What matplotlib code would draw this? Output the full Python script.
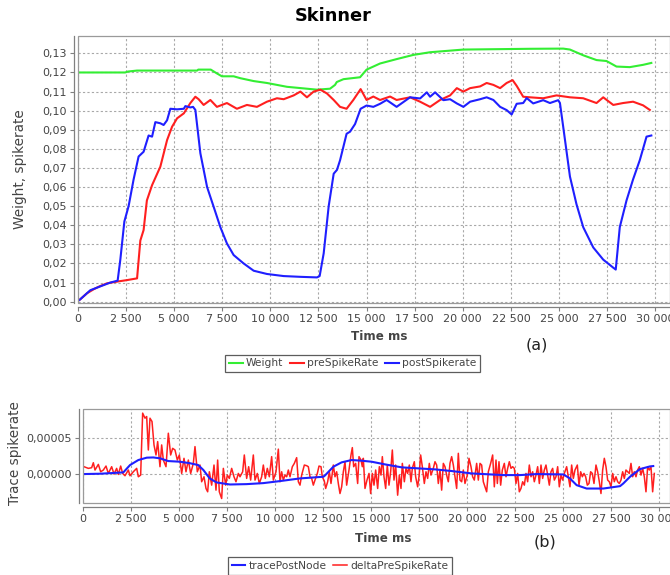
import matplotlib
matplotlib.use("Agg")
import matplotlib.pyplot as plt
from matplotlib.ticker import FuncFormatter, MultipleLocator, FixedLocator
from matplotlib.patches import Rectangle

# ---------------- data: panel (a) ----------------
weight_t = [0, 2450, 2600, 3070, 6190, 6250, 6900, 7220, 7480, 8090, 8440, 9130, 9820, 10340,
            10860, 11380, 12420, 13100, 13360, 13450, 13800, 14660, 15000, 15700, 16560, 17430,
            18300, 20030, 21760, 23490, 25220, 25570, 26260, 26950, 27470, 27990, 28680, 29370, 29800]
weight_v = [0.120, 0.120, 0.1205, 0.121, 0.121, 0.1215, 0.1215, 0.1195, 0.118, 0.118, 0.117, 0.1155,
            0.1145, 0.1135, 0.1125, 0.112, 0.111, 0.1115, 0.1135, 0.115, 0.1165, 0.1175, 0.1215,
            0.1247, 0.127, 0.1292, 0.1306, 0.132, 0.1322, 0.1324, 0.1325, 0.132, 0.129, 0.1265,
            0.126, 0.1231, 0.1228, 0.124, 0.125]

pre_t = [0, 90, 470, 815, 1160, 1510, 2030, 2550, 3070, 3240, 3410, 3580, 3850, 4280, 4630, 4890,
         5150, 5500, 5840, 6100, 6270, 6530, 6880, 7220, 7740, 8260, 8780, 9300, 9820, 10340, 10690,
         11210, 11560, 11900, 12250, 12600, 12940, 13290, 13620, 13960, 14310, 14690, 15000, 15350,
         15700, 16220, 16560, 17260, 17780, 18300, 18820, 19340, 19690, 20030, 20380, 20900, 21240,
         21590, 21940, 22280, 22590, 22800, 23140, 23490, 24180, 24870, 25570, 26260, 26950, 27300,
         27820, 28330, 28850, 29370, 29720]
pre_v = [0.0005, 0.001, 0.0044, 0.0065, 0.0082, 0.0096, 0.0105, 0.0113, 0.0122, 0.032, 0.0375, 0.053,
         0.061, 0.0707, 0.0846, 0.0916, 0.096, 0.0986, 0.104, 0.1073, 0.106, 0.103, 0.1056, 0.102,
         0.104, 0.101, 0.103, 0.102, 0.1047, 0.1065, 0.106, 0.108, 0.110, 0.107, 0.110, 0.111, 0.109,
         0.1056, 0.102, 0.101, 0.1056, 0.1113, 0.1056, 0.1074, 0.1056, 0.1074, 0.1056, 0.107, 0.1047,
         0.102, 0.1056, 0.108, 0.1118, 0.110, 0.1118, 0.1127, 0.1145, 0.1135, 0.1118, 0.1145, 0.116,
         0.113, 0.1073, 0.107, 0.1065, 0.108, 0.107, 0.1065, 0.104, 0.107, 0.103, 0.104, 0.1047,
         0.1028, 0.1004]

post_t = [0, 90, 640, 1160, 1680, 2060, 2200, 2410, 2630, 2890, 3150, 3410, 3670, 3850, 4020, 4280,
          4450, 4630, 4800, 5150, 5500, 5580, 5840, 5980, 6100, 6360, 6710, 7050, 7400, 7740, 8090,
          8610, 9130, 9820, 10690, 11560, 12420, 12560, 12770, 13030, 13290, 13460, 13620, 13960,
          14140, 14400, 14690, 15000, 15350, 15700, 16040, 16560, 17260, 17780, 18130, 18300, 18560,
          18990, 19340, 19690, 20030, 20380, 20900, 21240, 21590, 21940, 22280, 22540, 22800, 23140,
          23320, 23660, 24180, 24530, 24960, 25050, 25220, 25570, 25910, 26260, 26780, 27300, 27820,
          27950, 28160, 28510, 28850, 29200, 29550, 29800]
post_v = [0.0005, 0.001, 0.006, 0.008, 0.010, 0.011, 0.022, 0.042, 0.050, 0.064, 0.076, 0.0785, 0.087,
          0.0864, 0.094, 0.0934, 0.0925, 0.095, 0.101, 0.1007, 0.101, 0.1024, 0.1017, 0.102, 0.1004,
          0.0777, 0.060, 0.0497, 0.039, 0.0305, 0.0244, 0.020, 0.0162, 0.0145, 0.0134, 0.013, 0.0127,
          0.0134, 0.0253, 0.050, 0.067, 0.069, 0.074, 0.0879, 0.089, 0.093, 0.101, 0.1027, 0.102,
          0.1036, 0.1056, 0.102, 0.107, 0.1064, 0.1096, 0.1073, 0.1096, 0.1055, 0.106, 0.1038, 0.102,
          0.1047, 0.106, 0.107, 0.1056, 0.102, 0.1003, 0.098, 0.1036, 0.104, 0.1066, 0.1038, 0.1055,
          0.104, 0.1055, 0.104, 0.0915, 0.0655, 0.051, 0.039, 0.0284, 0.022, 0.0178, 0.0168, 0.039,
          0.053, 0.064, 0.0741, 0.0864, 0.087]

# ---------------- data: panel (b), values in units of 1e-5 ----------------
trace_t = [0, 900, 2100, 2450, 2880, 3320, 3660, 4010, 4440, 5050, 5570, 6000, 6270, 6600, 6960, 7650,
           8520, 9390, 10260, 11300, 12520, 12600, 13040, 13470, 13990, 14510, 15030, 15730, 16600,
           17460, 18330, 19200, 20240, 21900, 22760, 23630, 25020, 25360, 25710, 26230, 27100, 27970,
           28140, 28490, 29010, 29530, 29700]
trace_v = [0, 0.05, 0.23, 1.25, 1.94, 2.27, 2.3, 2.18, 1.8, 1.71, 1.5, 1.25, 0.56, -0.6, -1.16, -1.44,
           -1.39, -1.25, -0.97, -0.6, -0.37, -0.2, 1.02, 1.62, 1.94, 1.85, 1.71, 1.34, 0.93, 0.79, 0.65,
           0.42, 0.09, -0.14, -0.14, 0, -0.05, -0.6, -1.53, -2.0, -2.0, -1.67, -1.3, -0.37, 0.69, 1.06,
           1.11]

delta_t = [52, 278, 451, 538, 625, 799, 920, 1059, 1198, 1319, 1493, 1614, 1753, 1840, 1962, 2066, 2187,
           2361, 2448, 2621, 2795, 2882, 3003, 3107, 3229, 3316, 3403, 3489, 3594, 3698, 3802, 3889,
           4010, 4097, 4184, 4323, 4444, 4566, 4670, 4791, 4913, 5017, 5139, 5260, 5364, 5486, 5607,
           5746, 5833, 5954, 6093, 6180, 6302, 6406, 6493, 6580, 6701, 6823, 6927, 7013, 7100, 7222,
           7309, 7430, 7517, 7621, 7743, 7864, 7968, 8090, 8177, 8316, 8402, 8524, 8628, 8732, 8871,
           8958, 9079, 9183, 9305, 9392, 9496, 9600, 9704, 9826, 9913, 10052,
           10174, 10260, 10347, 10434, 10521, 10608, 10694, 10781, 10903, 11007, 11128, 11215, 11302,
           11389, 11528, 11649, 11736, 11823, 11910, 11996, 12083, 12205, 12292, 12396, 12465, 12569,
           12639, 12743, 12830, 12916, 13038, 13125, 13212, 13298, 13385, 13472, 13559, 13646, 13732,
           13854, 13958, 14028, 14097, 14201, 14305, 14375, 14479, 14548, 14600, 14687, 14791, 14896,
           14982, 15069, 15156, 15243, 15347, 15434, 15520, 15590, 15677, 15764, 15850, 15937, 16024,
           16111, 16198, 16284, 16388, 16475, 16562, 16632, 16736, 16822, 16909, 16996, 17083, 17152,
           17256, 17326, 17430, 17500, 17586, 17673, 17777, 17864, 17951, 18037, 18124, 18246, 18333,
           18420, 18506, 18593, 18680, 18767, 18854, 18940, 19027, 19114, 19201, 19288, 19374, 19461,
           19548, 19635, 19722, 19808, 19895, 20017, 20104, 20208, 20294, 20381,
           20503, 20590, 20677, 20764, 20850, 20937, 21024, 21111, 21232, 21336, 21423, 21510, 21580,
           21666, 21753, 21840, 21944, 22031, 22118, 22204, 22291, 22378, 22465, 22552, 22638, 22725,
           22812, 22899, 22986, 23072, 23159, 23246, 23333, 23420, 23506, 23593, 23680, 23767, 23854,
           23940, 24027, 24114, 24201, 24288, 24374, 24461, 24548, 24635, 24722, 24808, 24895, 24982,
           25069, 25190, 25277, 25364, 25451, 25538, 25624, 25746, 25833, 25920, 26006, 26093, 26180,
           26267, 26354, 26440, 26527, 26614, 26718, 26805, 26892, 26978, 27065, 27152, 27239, 27326,
           27412, 27499, 27586, 27673, 27760, 27846, 27933, 28020, 28107, 28194, 28280, 28367, 28454,
           28541, 28628, 28714, 28801, 28888, 28975, 29062, 29148, 29235, 29322, 29409, 29496, 29582,
           29669, 29756]
delta_v = [1.02, 0.79, 0.88, 1.57, 0.56, 1.34, 0.32, 0.56, 1.11, 0.09, 1.02, 0, 0.79, -0.05, 1.11, 0.09,
           -0.23, 0.56, -0.23, 0.32, 0.79, -0.37, -0.14, 8.43, 7.73, 7.96, 3.33, 7.73, 7.27, 4.03, 2.64,
           4.49, 1.02, 4.03, 1.94, 1.02, 5.65, 2.64, 3.56, 3.33, 1.94, 2.64, 0.09, 2.18, 0.32, 1.94,
           0.09, 1.48, 3.80, 0.32, 1.25, -1.06, -0.37, -1.99, -2.45, 0.32, -1.53, 1.25, -2.22, 1.94,
           -2.45, -3.38, 0.79, -1.53, -0.14, -0.60, 0.79, -0.37, -1.06, 0.09, -0.37, 0.32, 2.64, -0.60,
           1.02, -0.83, 2.64, -0.83, 0.09, -1.30, -0.37, 1.25, -0.60, 0.79, -0.37, 2.41, -0.83, 0.32,
           3.45, -1.06, 0.32, -0.83, -0.14, -0.37, 0.56, -0.37, 1.02, 1.48, 2.27, -1.06, -1.53,
           -0.14, 1.25, 1.16, 1.02, -0.37, -0.60, -1.53, -0.83, 0.09, 1.11, 1.02, -0.37, -0.97,
           -1.99, -1.06, 0.32, -1.30, 1.25, -0.37, 0.32, -1.30, -2.69, -1.76, 0.32, 1.71, -1.53,
           0.56, 2.64, 3.66, 1.02, 1.48, -1.30, 2.41, 1.94, 1.02, 2.18, -1.99, -0.83, 0.09,
           -2.69, 0.09, -1.53, 0.56, -1.99, 1.02, -0.14, 2.41, -0.37, -1.99, 1.25, -1.53, 0.32,
           3.33, -0.83, 1.25, -2.92, -0.14, -1.99, 1.48, -1.06, 0.79, 0.09, 1.25, -1.06, 0.79,
           1.71, -0.37, -1.76, -0.37, 2.64, 1.02, -1.30, 0.32, -0.60, 1.48, -0.14, 0.79, 1.71,
           1.25, -1.30, 0.56, -2.22, 1.48, 1.02, -0.14, -1.06, 1.48, 2.41, 1.25, -0.37, -1.99,
           2.87, -0.83, -1.06, 0.56, -1.30, -0.14, 2.18, 1.02, -0.37, -0.83,
           1.48, -0.83, 1.48, 1.25, -1.06, -1.76, -2.45, 0.32, 1.48, 2.64, -1.76, 1.94, -1.30,
           1.71, -1.53, 0.56, 1.48, -0.37, 0.79, 1.71, 0.79, 1.02, 0.79, -1.30, 0.09, -2.45,
           -1.99, -1.06, -1.53, 0.09, -1.06, 1.25, -0.37, 0.32, -1.06, -0.14, 1.02, -1.30, 1.25,
           -0.60, 0.56, 1.25, -0.14, -1.53, 0.32, 0.79, -0.83, -0.37, 1.02, -1.76, -0.14, -0.83,
           0.09, 1.02, -0.37, -1.76, 1.25, -0.60, 0.56, 1.25, -1.53, 0.32, -0.37, 0.09, -0.37,
           -1.53, -1.30, 0.32, 0.09, -1.30, 1.25, 0.32, -1.06, -2.69, 0.56, 2.18, 1.02, -0.83,
           -1.06, -1.76, 0.09, -1.06, -0.37, -1.06, -1.30, -0.83, 0.32, -0.60, 0.56, 0.32, 0.09,
           1.48, -0.37, 0.32, -0.37, 0.56, 1.02, -0.14, 0.79, -0.37, -2.45, 1.02, 0.56, 1.02,
           -2.45, 0.09]

title = "Skinner"
legend_a = ["Weight", "preSpikeRate", "postSpikerate"]
legend_b = ["tracePostNode", "deltaPreSpikeRate"]

# ---------------- styling ----------------
GREEN, RED, BLUE = "#33ee33", "#ff1f1f", "#1f1fff"
GRID = "#a8a8a8"
FRAME = "#808080"
TXT = "#444444"
W, H = 670, 575

fig = plt.figure(figsize=(6.7, 5.75), dpi=100)
fig.patch.set_facecolor("white")


def px_axes(l, t, r, b):
    return fig.add_axes([l / W, 1 - b / H, (r - l) / W, (b - t) / H])


def style(ax):
    for s in ("top", "right"):
        ax.spines[s].set_visible(False)
    for s in ("left", "bottom"):
        ax.spines[s].set_position(("outward", 3))
        ax.spines[s].set_color(FRAME)
        ax.spines[s].set_linewidth(0.9)
    ax.add_patch(Rectangle((0, 0), 1, 1, transform=ax.transAxes, fill=False,
                           edgecolor="#9a9a9a", lw=0.9, zorder=5, clip_on=False))
    ax.grid(True, color=GRID, linestyle=(0, (2, 2)), lw=0.8)
    ax.set_axisbelow(True)
    ax.tick_params(axis="both", length=3, width=0.8, color=FRAME, labelsize=8,
                   labelcolor=TXT, pad=2)


xfmt = FuncFormatter(lambda v, p: f"{int(round(v)):,}".replace(",", "\u00a0"))

# ---------------- panel (a) ----------------
ax1 = px_axes(78, 36, 670, 303)
style(ax1)
l1, = ax1.plot(weight_t, weight_v, color=GREEN, lw=1.5)
l2, = ax1.plot(pre_t, pre_v, color=RED, lw=1.5)
l3, = ax1.plot(post_t, post_v, color=BLUE, lw=1.5)
ax1.set_xlim(0, 30770)
ax1.set_ylim(-0.0007, 0.1391)
ax1.xaxis.set_major_locator(MultipleLocator(2500))
ax1.xaxis.set_major_formatter(xfmt)
ax1.yaxis.set_major_locator(FixedLocator([i / 100 for i in range(14)]))
ax1.yaxis.set_major_formatter(FuncFormatter(lambda v, p: f"{v:.2f}".replace(".", ",")))
ax1.set_ylabel("Weight, spikerate", fontsize=9.8, color=TXT)
ax1.yaxis.set_label_coords(-(78 - 27) / (670 - 78), 0.5)

fig.text(333 / W, 1 - 16 / H, title, ha="center", va="center", fontsize=12.8, fontweight="bold")
fig.text(379 / W, 1 - 337 / H, "Time ms", ha="center", va="center", fontsize=8.6,
         fontweight="bold", color=TXT)
fig.text(537 / W, 1 - 345 / H, "(a)", ha="center", va="center", fontsize=11.5, color="#222222")

leg1 = fig.legend([l1, l2, l3], legend_a, loc="center", bbox_to_anchor=(352.5 / W, 1 - 363.5 / H),
                  ncol=3, fontsize=7.7, frameon=True, fancybox=False, handlelength=1.3,
                  handletextpad=0.3, columnspacing=0.6, borderpad=0.35, labelcolor=TXT)
leg1.get_frame().set_edgecolor("#333333")
leg1.get_frame().set_linewidth(0.9)

# ---------------- panel (b) ----------------
ax2 = px_axes(83, 409, 670, 503)
style(ax2)
m1, = ax2.plot(delta_t, [v * 1e-5 for v in delta_v], color=RED, lw=1.1)
m2, = ax2.plot(trace_t, [v * 1e-5 for v in trace_v], color=BLUE, lw=1.5)
ax2.set_xlim(0, 30573)
ax2.set_ylim(-4.0e-5, 9.0e-5)
ax2.xaxis.set_major_locator(MultipleLocator(2500))
ax2.xaxis.set_major_formatter(xfmt)
ax2.yaxis.set_major_locator(FixedLocator([0.0, 5e-5]))
ax2.yaxis.set_major_formatter(FuncFormatter(lambda v, p: f"{v:.5f}".replace(".", ",")))
ax2.set_ylabel("Trace spikerate", fontsize=9.8, color=TXT)
ax2.yaxis.set_label_coords(-(83 - 22) / (670 - 83), 0.53)

fig.text(383 / W, 1 - 538 / H, "Time ms", ha="center", va="center", fontsize=8.6,
         fontweight="bold", color=TXT)
fig.text(545 / W, 1 - 542 / H, "(b)", ha="center", va="center", fontsize=11.5, color="#222222")

leg2 = fig.legend([m2, m1], legend_b, loc="center", bbox_to_anchor=(340 / W, 1 - 566 / H),
                  ncol=2, fontsize=7.7, frameon=True, fancybox=False, handlelength=1.3,
                  handletextpad=0.3, columnspacing=0.6, borderpad=0.35, labelcolor=TXT)
leg2.get_frame().set_edgecolor("#333333")
leg2.get_frame().set_linewidth(0.9)

fig.savefig("out.png", dpi=100, facecolor="white")
